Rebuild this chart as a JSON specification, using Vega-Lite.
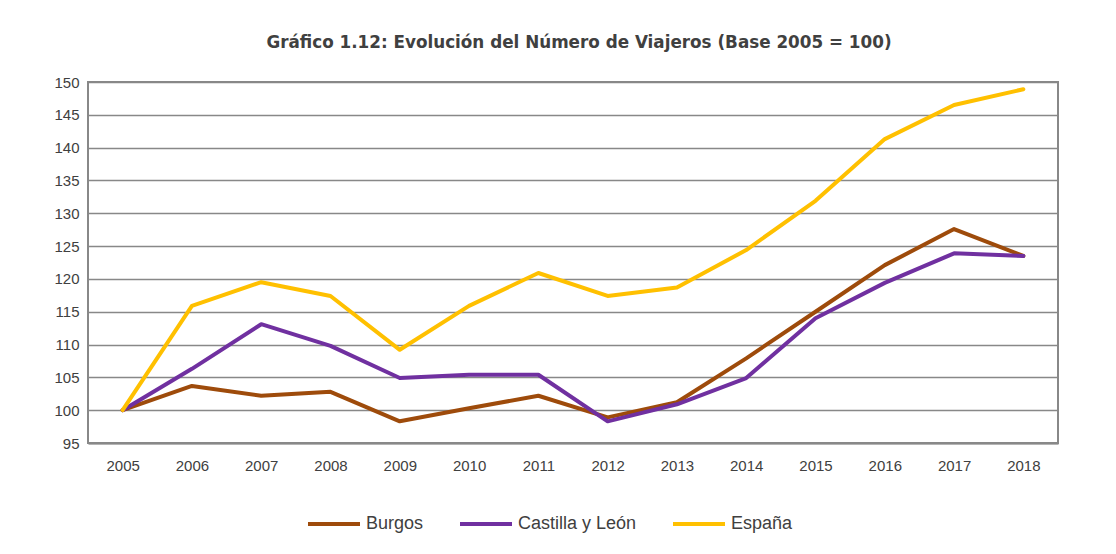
{
  "$schema": "https://vega.github.io/schema/vega-lite/v6.json",
  "width": 970,
  "height": 361,
  "autosize": {"type": "none"},
  "padding": {"left": 88, "top": 82, "right": 58, "bottom": 111},
  "background": "white",
  "title": {
    "text": "Gráfico 1.12: Evolución del Número de Viajeros (Base 2005 = 100)",
    "font": "DejaVu Sans",
    "fontSize": 16.8,
    "fontWeight": "bold",
    "color": "#404040",
    "anchor": "middle",
    "dx": 6,
    "offset": 23
  },
  "data": {
    "values": [
      {"year": "2005", "serie": "Burgos", "value": 100},
      {"year": "2006", "serie": "Burgos", "value": 103.7},
      {"year": "2007", "serie": "Burgos", "value": 102.2},
      {"year": "2008", "serie": "Burgos", "value": 102.8},
      {"year": "2009", "serie": "Burgos", "value": 98.3},
      {"year": "2010", "serie": "Burgos", "value": 100.3},
      {"year": "2011", "serie": "Burgos", "value": 102.2},
      {"year": "2012", "serie": "Burgos", "value": 98.9},
      {"year": "2013", "serie": "Burgos", "value": 101.2},
      {"year": "2014", "serie": "Burgos", "value": 107.9},
      {"year": "2015", "serie": "Burgos", "value": 115.0},
      {"year": "2016", "serie": "Burgos", "value": 122.1},
      {"year": "2017", "serie": "Burgos", "value": 127.6},
      {"year": "2018", "serie": "Burgos", "value": 123.5},
      {"year": "2005", "serie": "Castilla y León", "value": 100},
      {"year": "2006", "serie": "Castilla y León", "value": 106.3},
      {"year": "2007", "serie": "Castilla y León", "value": 113.1},
      {"year": "2008", "serie": "Castilla y León", "value": 109.8},
      {"year": "2009", "serie": "Castilla y León", "value": 104.9},
      {"year": "2010", "serie": "Castilla y León", "value": 105.4},
      {"year": "2011", "serie": "Castilla y León", "value": 105.4},
      {"year": "2012", "serie": "Castilla y León", "value": 98.3},
      {"year": "2013", "serie": "Castilla y León", "value": 100.9},
      {"year": "2014", "serie": "Castilla y León", "value": 104.9},
      {"year": "2015", "serie": "Castilla y León", "value": 114.0},
      {"year": "2016", "serie": "Castilla y León", "value": 119.4},
      {"year": "2017", "serie": "Castilla y León", "value": 123.9},
      {"year": "2018", "serie": "Castilla y León", "value": 123.5},
      {"year": "2005", "serie": "España", "value": 100},
      {"year": "2006", "serie": "España", "value": 115.9},
      {"year": "2007", "serie": "España", "value": 119.5},
      {"year": "2008", "serie": "España", "value": 117.4},
      {"year": "2009", "serie": "España", "value": 109.2},
      {"year": "2010", "serie": "España", "value": 115.9},
      {"year": "2011", "serie": "España", "value": 120.9},
      {"year": "2012", "serie": "España", "value": 117.4},
      {"year": "2013", "serie": "España", "value": 118.7},
      {"year": "2014", "serie": "España", "value": 124.4},
      {"year": "2015", "serie": "España", "value": 131.9},
      {"year": "2016", "serie": "España", "value": 141.3},
      {"year": "2017", "serie": "España", "value": 146.5},
      {"year": "2018", "serie": "España", "value": 148.9}
    ]
  },
  "mark": {"type": "line", "strokeWidth": 4, "strokeCap": "round", "strokeJoin": "round"},
  "encoding": {
    "x": {
      "field": "year",
      "type": "ordinal",
      "scale": {"type": "point", "padding": 0.5},
      "axis": {
        "title": null,
        "labelAngle": 0,
        "ticks": false,
        "grid": false,
        "domainColor": "#888888",
        "domainWidth": 2,
        "labelPadding": 15,
        "labelFont": "Liberation Sans",
        "labelFontSize": 15,
        "labelColor": "#404040"
      }
    },
    "y": {
      "field": "value",
      "type": "quantitative",
      "scale": {"domain": [95, 150], "nice": false, "zero": false},
      "axis": {
        "title": null,
        "values": [95, 100, 105, 110, 115, 120, 125, 130, 135, 140, 145, 150],
        "ticks": false,
        "domain": false,
        "gridColor": "#888888",
        "gridWidth": 1.5,
        "labelPadding": 9,
        "labelFont": "Liberation Sans",
        "labelFontSize": 15,
        "labelColor": "#404040"
      }
    },
    "color": {
      "field": "serie",
      "type": "nominal",
      "scale": {
        "domain": ["Burgos", "Castilla y León", "España"],
        "range": ["#9E4B0B", "#7030A0", "#FFC000"]
      },
      "legend": {
        "title": null,
        "orient": "none",
        "direction": "horizontal",
        "legendX": 218,
        "legendY": 414,
        "symbolType": "stroke",
        "symbolSize": 2704,
        "symbolStrokeWidth": 4,
        "labelFont": "Liberation Sans",
        "labelFontSize": 18,
        "labelColor": "#404040",
        "labelOffset": 4,
        "columnPadding": 28
      }
    }
  },
  "config": {
    "view": {"stroke": "#888888", "strokeWidth": 2}
  }
}
